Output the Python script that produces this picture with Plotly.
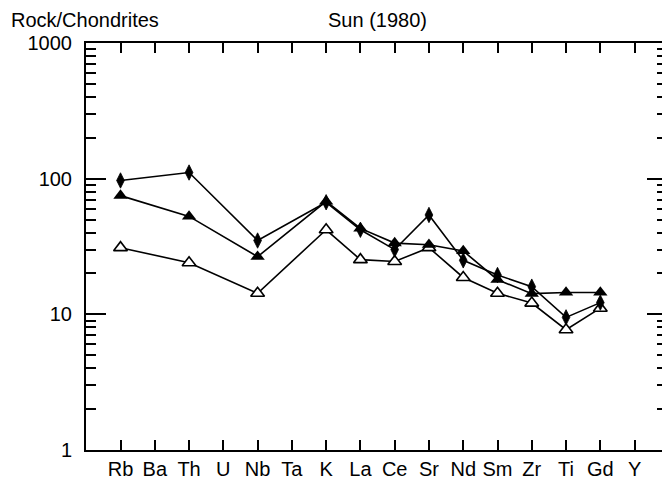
import plotly.graph_objects as go

elements = ["Rb", "Ba", "Th", "U", "Nb", "Ta", "K", "La", "Ce", "Sr", "Nd", "Sm", "Zr", "Ti", "Gd", "Y"]

# Filled diamonds
s_diamond = [97, None, 111, None, 35, None, 67, 42, 30, 54, 25, 19.5, 16, 9.5, 12.2, None]
# Filled triangles
s_tri_filled = [75, None, 52.7, None, 26.6, None, 68, 43, 33.5, 32.6, 29.3, 18, 14.2, 14.5, 14.5, None]
# Open triangles
s_tri_open = [31, None, 24, None, 14.3, None, 42, 25.3, 24.5, 31, 18.7, 14.3, 12.1, 7.7, 11.1, None]

y_ticks = [1, 10, 100, 1000]
y_tick_text = ["1", "10", "100", "1000"]

xpos = list(range(len(elements)))
FONT = "Liberation Sans, Arial, sans-serif"
FS = 20

fig = go.Figure()

fig.add_trace(go.Scatter(
    x=xpos, y=s_tri_open, mode="lines+markers", connectgaps=True,
    line=dict(color="black", width=1.6),
    marker=dict(symbol="triangle-up", size=12, color="white",
                line=dict(color="black", width=1.6)),
    showlegend=False, hoverinfo="skip"))

fig.add_trace(go.Scatter(
    x=xpos, y=s_tri_filled, mode="lines+markers", connectgaps=True,
    line=dict(color="black", width=1.6),
    marker=dict(symbol="triangle-up", size=12.5, color="black",
                line=dict(color="black", width=0)),
    showlegend=False, hoverinfo="skip"))

fig.add_trace(go.Scatter(
    x=xpos, y=s_diamond, mode="lines+markers", connectgaps=True,
    line=dict(color="black", width=1.6),
    marker=dict(symbol="diamond-tall", size=11, color="black",
                line=dict(color="black", width=0.8)),
    showlegend=False, hoverinfo="skip"))

# dummy trace for the right-hand tick axis
fig.add_trace(go.Scatter(x=[None], y=[None], yaxis="y2", showlegend=False, hoverinfo="skip"))

minor_vals = [m * 10 ** d for d in range(3) for m in range(2, 10)]

fig.update_layout(
    width=662, height=479,
    margin=dict(l=86, r=0, t=43, b=29),
    paper_bgcolor="white", plot_bgcolor="white",
    font=dict(family=FONT, size=FS, color="black"),
    xaxis=dict(
        range=[-1.007, 15.80],
        tickmode="array", tickvals=xpos, ticktext=elements,
        ticks="inside", ticklen=10, tickwidth=1.5, tickcolor="black",
        showline=True, linewidth=2, linecolor="black", mirror="ticks",
        showgrid=False, zeroline=False,
        tickfont=dict(family=FONT, size=FS, color="black"),
    ),
    yaxis=dict(
        type="log", range=[0, 3],
        tickmode="array", tickvals=y_ticks, ticktext=y_tick_text,
        ticks="inside", ticklen=20, tickwidth=1.5, tickcolor="black",
        showline=True, linewidth=2, linecolor="black",
        showgrid=False, zeroline=False,
        ticklabelstandoff=8,
        minor=dict(tickmode="array", tickvals=minor_vals, ticks="inside",
                   ticklen=10, tickwidth=1.5, tickcolor="black", showgrid=False),
        tickfont=dict(family=FONT, size=FS, color="black"),
    ),
    yaxis2=dict(
        type="log", range=[0, 3], overlaying="y", side="right", anchor="x",
        tickmode="array", tickvals=y_ticks, showticklabels=False,
        ticks="inside", ticklen=15, tickwidth=1.5, tickcolor="black",
        showline=False, showgrid=False, zeroline=False,
        minor=dict(tickmode="array", tickvals=minor_vals, ticks="inside",
                   ticklen=5, tickwidth=1.5, tickcolor="black", showgrid=False),
    ),
    annotations=[
        dict(text="Rock/Chondrites", xref="paper", yref="paper",
             x=-86 / 576, y=1 + 23 / 407, xanchor="left", yanchor="middle",
             showarrow=False, xshift=9, font=dict(family=FONT, size=FS, color="black")),
        dict(text="Sun (1980)", xref="paper", yref="paper",
             x=(377 - 86) / 576, y=1 + 23 / 407, xanchor="center", yanchor="middle",
             showarrow=False, font=dict(family=FONT, size=FS, color="black")),
    ],
)

fig.write_html("out.html")
